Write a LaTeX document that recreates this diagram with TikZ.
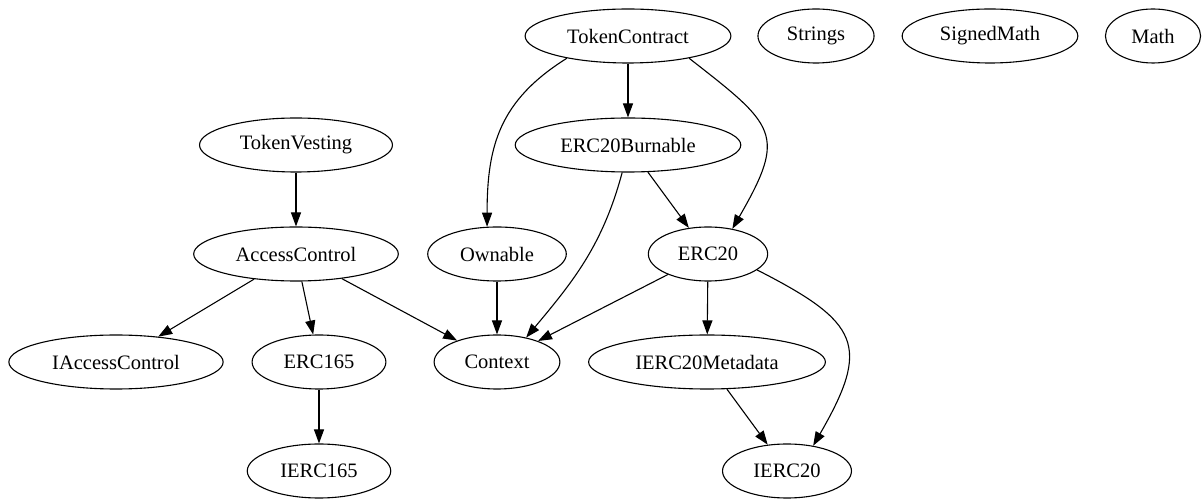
\documentclass[tikz,border=0pt]{standalone}
\usepackage{fontspec}
\setmainfont{Liberation Serif}
\usetikzlibrary{arrows.meta,shapes.geometric}
\tikzset{contract/.style={ % one ellipse per contract
            ellipse, draw,
            line width=1.1pt,
            inner xsep=12pt, inner ysep=0pt,
            minimum height=54pt, minimum width=81pt,
            font=\fontsize{20.5}{24}\selectfont},
        every edge/.style={ % inheritance links
            draw,
            ->,>={Triangle[length=14pt,width=10pt]},
            line width=1.1pt}
        }

\begin{document}
\begin{tikzpicture}[x=1pt, y=1pt]
    \useasboundingbox (0,0) rectangle (1204,500);
    \node[contract] (tc) at (628,464) {TokenContract};
    \node[contract] (str) at (816,464) {Strings};
    \node[contract] (smath) at (990,464) {SignedMath};
    \node[contract] (math) at (1153,464) {Math};
    \node[contract] (vest) at (296,355) {TokenVesting};
    \node[contract] (burn) at (628,355) {ERC20Burnable};
    \node[contract] (ac) at (296,246) {AccessControl};
    \node[contract] (own) at (497,246) {Ownable};
    \node[contract] (erc) at (708,246) {ERC20};
    \node[contract] (iac) at (116,138) {IAccessControl};
    \node[contract] (e165) at (319,138) {ERC165};
    \node[contract] (ctx) at (497,138) {Context};
    \node[contract] (meta) at (707,138) {IERC20Metadata};
    \node[contract] (i165) at (319,29) {IERC165};
    \node[contract] (i20) at (787,29) {IERC20};

    \path (tc) edge (burn)
          (tc.-160) edge[out=-148, in=90, looseness=1.1] (own.110)
          (tc.-20) edge[out=-38, in=60, looseness=1.6] (erc.46)
          (vest) edge (ac)
          (burn) edge (erc)
          (burn.-102) edge[out=-105, in=50] (ctx.40)
          (ac) edge (iac)
          (ac) edge (e165)
          (ac) edge (ctx)
          (own) edge (ctx)
          (erc) edge (ctx)
          (erc) edge (meta)
          (erc.-18) edge[out=-27, in=60, looseness=1.6] (i20.44)
          (meta) edge (i20)
          (e165) edge (i165);
\end{tikzpicture}
\end{document}
